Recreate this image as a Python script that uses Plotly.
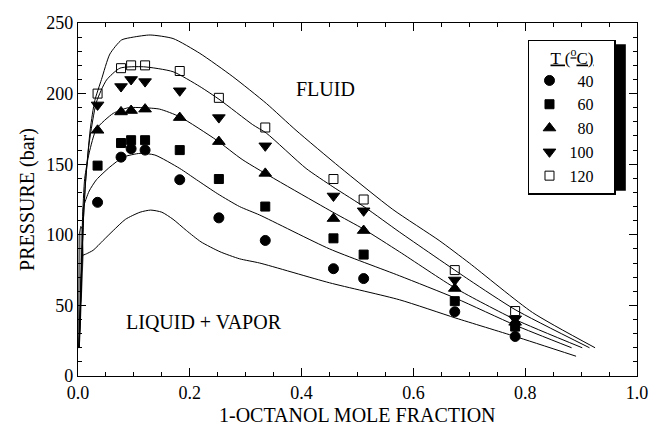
import plotly.graph_objects as go

# ---- measured data (1-octanol mole fraction vs pressure, bar) ----
x_exp = [0.035, 0.077, 0.095, 0.120, 0.182, 0.252, 0.335, 0.457, 0.511, 0.674, 0.782]
p_40 = [123, 155, 161, 160, 139, 112, 96, 76, 69, 45.5, 28]
p_60 = [149, 165, 167, 167, 160, 139.5, 120, 97.5, 86, 53, 35]
p_80 = [174, 187, 188, 189, 183, 166, 143.5, 111.5, 103, 62, 38]
p_100 = [192, 205, 210, 208.5, 202, 183, 163, 127.5, 117, 68, 40.5]
p_120 = [200, 218, 220, 220, 216, 197, 176, 139.5, 125, 75, 46]
temps = ["40", "60", "80", "100", "120"]

# ---- model curves ----
c1_x = [0.002, 0.004, 0.006, 0.007, 0.015, 0.027, 0.045, 0.063, 0.085, 0.111, 0.13, 0.15, 0.17, 0.194, 0.22, 0.254, 0.289, 0.325, 0.45, 0.575, 0.676, 0.782, 0.891]
c1_p = [20, 50, 78, 85, 86.5, 89, 96, 103, 111, 116, 117.5, 116, 111, 103, 95, 88, 83, 80, 66, 54, 41, 28, 14]
c2_x = [0.002, 0.006, 0.009, 0.0095, 0.02, 0.033, 0.057, 0.081, 0.111, 0.1375, 0.182, 0.212, 0.25, 0.289, 0.325, 0.45, 0.575, 0.676, 0.782, 0.883]
c2_p = [20, 70, 105, 119, 131, 139, 148, 155, 157.7, 156.5, 147, 139, 129, 120, 114, 90, 71, 55, 36, 20]
c3_x = [0.002, 0.006, 0.008, 0.012, 0.02, 0.033, 0.063, 0.09, 0.117, 0.146, 0.182, 0.248, 0.295, 0.456, 0.511, 0.575, 0.676, 0.782, 0.902]
c3_p = [20, 70, 110, 140, 158, 175, 186, 190, 190, 189, 183.6, 167, 153, 116, 104, 88, 62, 40, 20]
c4_x = [0.002, 0.006, 0.009, 0.013, 0.02, 0.033, 0.051, 0.075, 0.117, 0.17, 0.218, 0.254, 0.3125, 0.337, 0.408, 0.456, 0.515, 0.575, 0.7, 0.782, 0.915]
c4_p = [20, 70, 105, 135, 165, 194, 209.6, 218, 219, 215.5, 205, 195.5, 178, 172, 147, 134, 119, 102, 68, 47, 20]
c5_x = [0.002, 0.006, 0.009, 0.014, 0.022, 0.03, 0.042, 0.057, 0.078, 0.099, 0.129, 0.17, 0.218, 0.277, 0.337, 0.39, 0.468, 0.563, 0.646, 0.7, 0.813, 0.925]
c5_p = [20, 70, 105, 140, 175, 195, 210, 228, 238, 240, 241.5, 239, 228.5, 212, 193, 174, 148, 118, 96, 80, 45, 20]

# thin two-phase loop hugging the axis
loop_x = [0.001, 0.001, 0.002, 0.005, 0.008, 0.009, 0.007, 0.005, 0.003, 0.002, 0.001]
loop_p = [20, 60, 100, 106, 104, 85, 60, 40, 25, 20, 20]

FONT = "Liberation Serif, Times New Roman, serif"
NB = "\u00a0"

fig = go.Figure()

fig.add_trace(go.Scatter(x=loop_x, y=loop_p, mode="lines", fill="toself",
                         fillcolor="#b0b0b0", line=dict(color="black", width=0.8),
                         showlegend=False, hoverinfo="skip"))

for cx, cp in [(c1_x, c1_p), (c2_x, c2_p), (c3_x, c3_p), (c4_x, c4_p), (c5_x, c5_p)]:
    fig.add_trace(go.Scatter(x=cx, y=cp, mode="lines", line=dict(color="black", width=1, shape="spline", smoothing=0.6),
                             showlegend=False, hoverinfo="skip"))

series = [
    (p_40, "circle", 10, "black", "black"),
    (p_60, "square", 9, "black", "black"),
    (p_80, "triangle-up", 11, "black", "black"),
    (p_100, "triangle-down", 11, "black", "black"),
    (p_120, "square-open", 9, "black", "black"),
]
labels = [(NB * 2 + t if len(t) == 2 else t) + NB * 4 for t in temps]
for (pv, sym, sz, fc, lc), lab in zip(series, labels):
    fig.add_trace(go.Scatter(x=x_exp, y=pv, mode="markers", name=lab,
                             marker=dict(symbol=sym, size=sz, color=fc,
                                         line=dict(color=lc, width=1))))

axis_common = dict(showline=True, linecolor="black", linewidth=1.2, mirror="allticks",
                   ticks="inside", ticklen=8, tickcolor="black", tickwidth=1,
                   showgrid=False, zeroline=False, automargin=False,
                   tickfont=dict(family=FONT, size=18, color="black"),
                   title_font=dict(family=FONT, size=20, color="black"))

fig.update_xaxes(range=[0, 1], dtick=0.2, tickformat=".1f",
                 minor=dict(dtick=0.05, ticks="inside", ticklen=4, tickcolor="black"),
                 **axis_common)
fig.update_yaxes(range=[0, 250], dtick=50,
                 minor=dict(dtick=10, ticks="inside", ticklen=4, tickcolor="black"),
                 title_text="PRESSURE (bar)", title_standoff=6, **axis_common)

fig.add_annotation(x=0.5, y=0, xref="paper", yref="paper", yanchor="middle",
                   yshift=-39, text="1-OCTANOL MOLE FRACTION", showarrow=False,
                   font=dict(family=FONT, size=20, color="black"))
fig.add_annotation(x=0.443, y=203, text="FLUID", showarrow=False,
                   font=dict(family=FONT, size=20, color="black"))
fig.add_annotation(x=0.226, y=38, text="LIQUID + VAPOR", showarrow=False,
                   font=dict(family=FONT, size=20, color="black"))

# legend drop shadow (offset ~4 px right and down from the legend box)
fig.add_shape(type="rect", xref="paper", yref="paper",
              x0=0.812, x1=0.98, y0=0.525, y1=0.94,
              fillcolor="black", line=dict(width=0), layer="above")

fig.update_layout(
    width=650, height=431,
    margin=dict(l=78, r=13, t=23, b=55, autoexpand=False),
    paper_bgcolor="white", plot_bgcolor="white",
    font=dict(family=FONT, color="black"),
    legend=dict(x=0.805, y=0.952, xanchor="left", yanchor="top",
                bgcolor="white", bordercolor="black", borderwidth=1.5,
                font=dict(family=FONT, size=16, color="black"),
                title=dict(text="<u>T (<sup>o</sup>C)</u>", side="top center",
                           font=dict(family=FONT, size=17, color="black")),
                itemwidth=30),
)

fig.write_html("out.html", config={"displayModeBar": False},
               post_script="document.body.style.margin='0px';")
